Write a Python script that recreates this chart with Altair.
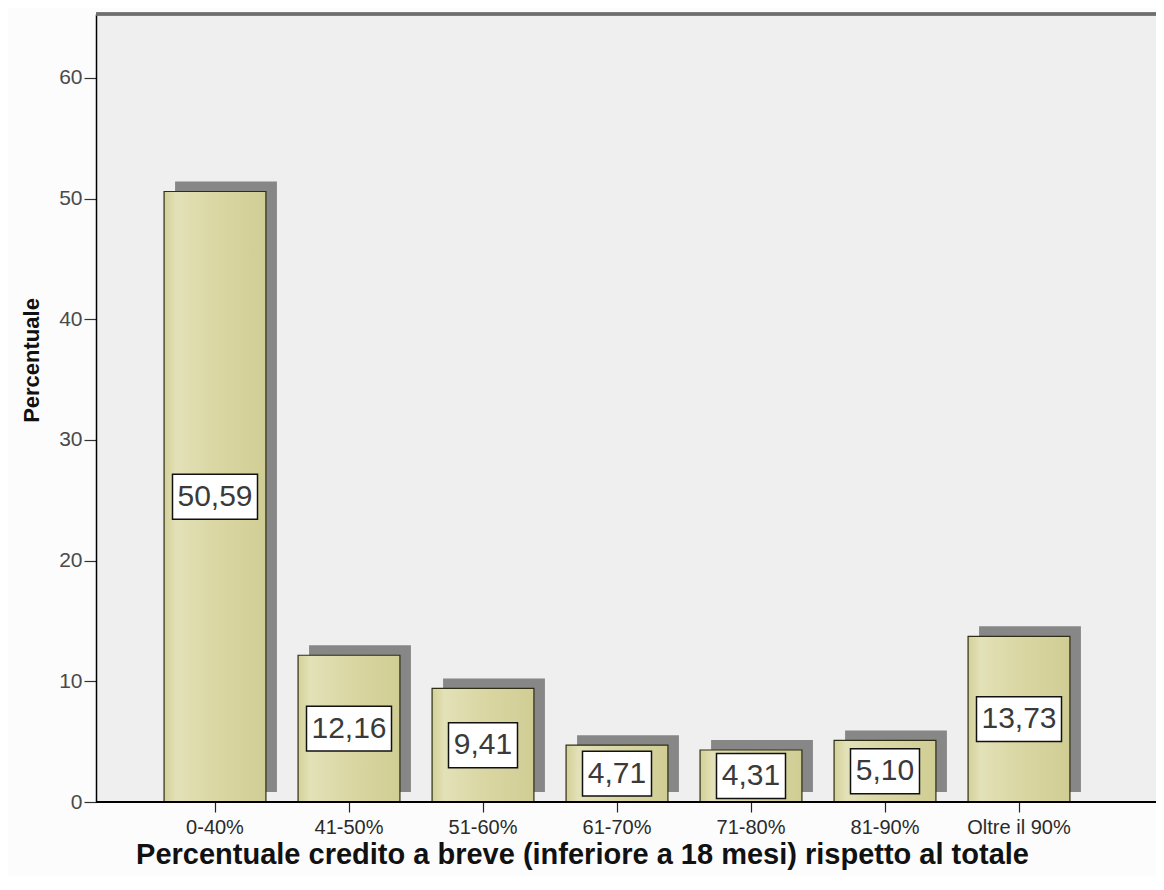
import altair as alt
import pandas as pd

# ---- data ----
categories = ["0-40%", "41-50%", "51-60%", "61-70%", "71-80%", "81-90%", "Oltre il 90%"]
values = [50.59, 12.16, 9.41, 4.71, 4.31, 5.10, 13.73]
labels = ["50,59", "12,16", "9,41", "4,71", "4,31", "5,10", "13,73"]
y_ticks = [0, 10, 20, 30, 40, 50, 60]

x_title = "Percentuale credito a breve (inferiore a 18 mesi) rispetto al totale"
y_title = "Percentuale"

df = pd.DataFrame({"cat": categories, "val": values, "lab": labels})

FONT = "Liberation Sans"
W, H = 1060, 788
Y_MAX = 65.3

xscale = alt.Scale(domain=categories, range=[52, 990], paddingInner=0.24, paddingOuter=0.12)
yscale = alt.Scale(domain=[0, Y_MAX], nice=False, zero=True)

x_axis = alt.Axis(
    title=x_title, labelAngle=0, domain=False, grid=False,
    labelFont=FONT, labelFontSize=20, labelColor="#2a2a2a", labelPadding=5,
    tickSize=10, tickColor="#222", tickWidth=1.2,
    titleFont=FONT, titleFontSize=29, titleFontWeight="bold", titleColor="#111",
    titleX=486, titleY=61, titleBaseline="alphabetic", titleAlign="center",
)
y_axis = alt.Axis(
    values=y_ticks, grid=False, title=y_title,
    labelFont=FONT, labelFontSize=21, labelColor="#4a4a4a", labelPadding=2,
    tickSize=12, tickColor="#333", tickWidth=1.2,
    domainColor="#000", domainWidth=1.5,
    titleFont=FONT, titleFontSize=22, titleFontWeight="bold", titleColor="#111",
    titleX=-58, titleY=346, titleAngle=270, titleBaseline="alphabetic", titleAlign="center",
)

base = alt.Chart(df)


def xenc():
    return alt.X("cat:N", scale=xscale, sort=categories, axis=x_axis)


def yenc(field):
    return alt.Y(field, scale=yscale, axis=y_axis)


shadow = base.mark_bar(color="#7b7b7b", opacity=0.9, xOffset=11, yOffset=-10).encode(
    x=xenc(), y=yenc("val:Q"),
)

bar_fill = alt.Gradient(
    gradient="linear",
    stops=[
        alt.GradientStop(color="#d3d098", offset=0),
        alt.GradientStop(color="#e3e1b7", offset=0.12),
        alt.GradientStop(color="#dad7a4", offset=0.5),
        alt.GradientStop(color="#d0cd94", offset=1),
    ],
    x1=0, x2=1, y1=0, y2=0,
)

bars = base.mark_bar(color=bar_fill, stroke="#2e2e14", strokeWidth=1.2).encode(
    x=xenc(), y=yenc("val:Q"),
)

calc = base.transform_calculate(
    mid="max(datum.val / 2, 1.95)",
    lo="max(datum.val / 2, 1.95) - 1.86",
    hi="max(datum.val / 2, 1.95) + 1.86",
)

box5 = calc.transform_filter("length(datum.lab) == 5").mark_bar(
    width=85, color="white", stroke="#111", strokeWidth=1.5
).encode(x=xenc(), y=yenc("lo:Q"), y2="hi:Q")

box4 = calc.transform_filter("length(datum.lab) == 4").mark_bar(
    width=69, color="white", stroke="#111", strokeWidth=1.5
).encode(x=xenc(), y=yenc("lo:Q"), y2="hi:Q")

texts = calc.mark_text(font=FONT, fontSize=30, color="#3a3a3a", baseline="middle").encode(
    x=xenc(), y=yenc("mid:Q"), text="lab:N"
)

top_rule = base.mark_rule(color="#6e6e6e", strokeWidth=2.5).encode(
    x=alt.value(0), x2=alt.value(W), y=alt.value(0)
)
x_line = base.mark_rule(color="#000", strokeWidth=1.5).encode(
    x=alt.value(0), x2=alt.value(W), y=alt.value(H)
)

chart = (
    alt.layer(shadow, bars, box5, box4, texts, top_rule, x_line)
    .properties(
        width=W, height=H,
        padding={"left": 88, "top": 6, "right": 0, "bottom": 74},
        autosize=alt.AutoSizeParams(type="none"),
        background="#fcfcfc",
    )
    .configure_view(fill="#efefef", stroke=None)
)

chart.save("out.html", embed_options={"renderer": "svg", "actions": False})
